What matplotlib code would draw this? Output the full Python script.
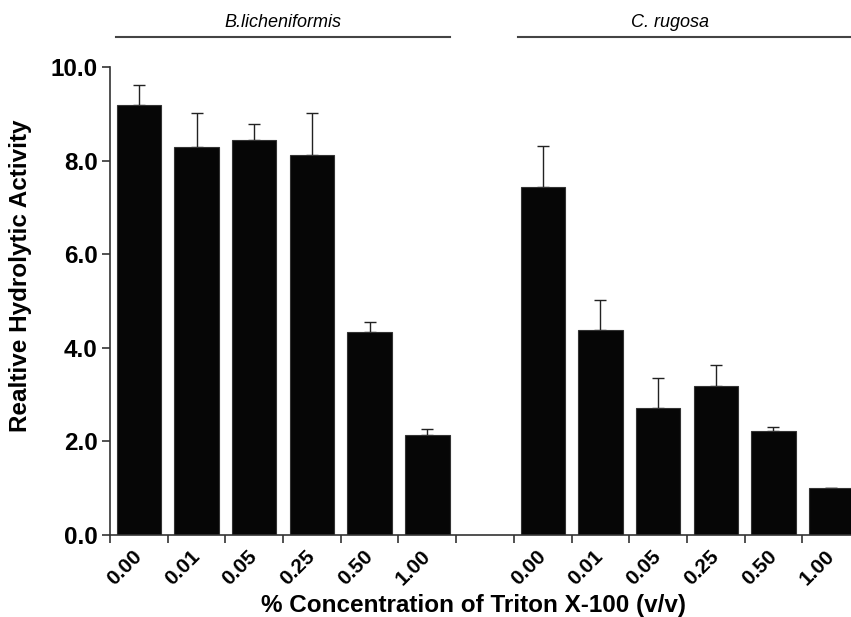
import numpy as np
import matplotlib.pyplot as plt
from matplotlib.ticker import FixedLocator

# Triton X-100 concentrations (% v/v)
conc_labels = ["0.00", "0.01", "0.05", "0.25", "0.50", "1.00"]

# B. licheniformis lipase
blich_mean = [9.18, 8.30, 8.43, 8.13, 4.34, 2.14]
blich_err = [0.44, 0.72, 0.35, 0.89, 0.21, 0.12]

# C. rugosa lipase
crug_mean = [7.44, 4.38, 2.71, 3.18, 2.23, 1.00]
crug_err = [0.88, 0.64, 0.65, 0.45, 0.07, 0.01]

plt.rcParams['font.family'] = ['Liberation Sans', 'DejaVu Sans']

fig = plt.figure(figsize=(8.51, 6.17), dpi=100)
ax = fig.add_axes([0.1293, 0.1329, 0.8813, 0.7585])

# slots 0-5 group one, slot 6 empty, slots 7-12 group two
x1 = np.arange(6) + 0.5
x2 = np.arange(6) + 7.5
means = blich_mean + crug_mean
errs = blich_err + crug_err
xs = np.concatenate([x1, x2])

ax.bar(xs, means, width=0.77, color="#060606", edgecolor="#333333",
       linewidth=0.8, zorder=2)
ax.errorbar(xs, means, yerr=[np.zeros(len(errs)), errs], fmt="none",
            ecolor="#222222", elinewidth=1.0, capsize=4.5, capthick=1.0,
            zorder=1)

ax.set_xlim(0, 13)
ax.set_ylim(0, 10)

ax.set_yticks([0, 2, 4, 6, 8, 10])
ax.set_yticklabels(["0.0", "2.0", "4.0", "6.0", "8.0", "10.0"],
                   fontsize=17.5, fontweight="bold")

# tick marks at slot boundaries, labels at bar centres
ax.xaxis.set_major_locator(FixedLocator(np.arange(0, 14)))
ax.set_xticklabels([])
ax.xaxis.set_minor_locator(FixedLocator(xs))
ax.set_xticklabels(conc_labels + conc_labels, minor=True, rotation=45,
                   ha="right", va="center", rotation_mode="anchor",
                   fontsize=15, fontweight="bold")
ax.tick_params(axis="x", which="minor", length=0, pad=13)
ax.tick_params(axis="x", which="major", length=6, width=1.2, color="#333333")
ax.tick_params(axis="y", length=6, width=1.2, color="#333333", pad=3)

for s in ["top", "right"]:
    ax.spines[s].set_visible(False)
for s in ["left", "bottom"]:
    ax.spines[s].set_linewidth(1.2)
    ax.spines[s].set_color("#333333")

ax.set_xlabel("% Concentration of Triton X-100 (v/v)", fontsize=17.5,
              fontweight="bold")
ax.xaxis.set_label_coords(0.485, -0.125)
ax.set_ylabel("Realtive Hydrolytic Activity", fontsize=17.5,
              fontweight="bold")
ax.yaxis.set_label_coords(-0.104, 0.555)

# group headers
ax.plot([0.1, 5.89], [10.64, 10.64], color="#444444", lw=1.5, clip_on=False)
ax.text(2.99, 10.96, "B.licheniformis", ha="center", va="center",
        fontsize=13, style="italic")
ax.plot([7.07, 13], [10.64, 10.64], color="#444444", lw=1.5, clip_on=False)
ax.text(9.7, 10.96, "C. rugosa", ha="center", va="center",
        fontsize=13, style="italic")

fig.savefig("out.png", dpi=100)
